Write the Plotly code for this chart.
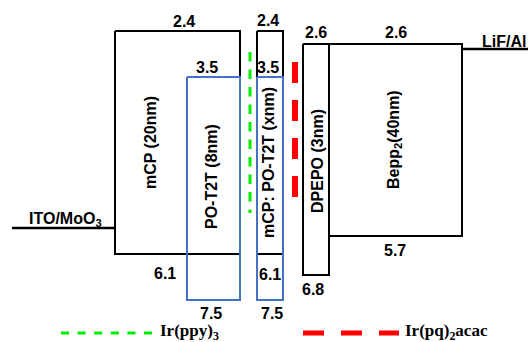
import plotly.graph_objects as go

# ---------------- data ----------------
# energy-level boxes (eV): LUMO (top) and HOMO (bottom)
box_names = ["mCP", "PO-T2T", "mCP (host)", "PO-T2T (co-host)", "DPEPO", "Bepp2"]
box_lumo = [2.4, 3.5, 2.4, 3.5, 2.6, 2.6]
box_homo = [6.1, 7.5, 6.1, 7.5, 6.8, 5.7]

# rotated layer labels
layer_labels = ["mCP (20nm)", "PO-T2T (8nm)", "mCP: PO-T2T (xnm)", "DPEPO (3nm)",
                "Bepp<sub>2</sub>(40nm)"]

# electrodes
electrode_labels = ["ITO/MoO<sub>3</sub>", "LiF/Al"]

# legend
dopant_labels = ["Ir(ppy)<sub>3</sub>", "Ir(pq)<sub>2</sub>acac"]

# ---------------- layout / styling (schematic, not to scale) ----------------
# vertical drawing position of each energy level (diagram is schematic)
level_pos = {2.4: 31, 2.6: 44, 3.5: 77, 5.7: 236, 6.1: 254, 6.8: 275, 7.5: 300}
anode_pos, cathode_pos = 228, 49

box_x = [(115, 240), (187, 240), (257, 283), (257, 283), (303, 329), (329, 462)]
BLUE = "#4472C4"
box_col = ["black", BLUE, "black", BLUE, "black", "black"]

label_xy = [(150, 143), (211, 177), (268, 163), (317, 161), (394, 140)]

SANS = "Liberation Sans, Arial, sans-serif"
SERIF = "Liberation Serif, Times New Roman, serif"

fig = go.Figure()

# boxes
for (x0, x1), lu, ho, col, nm in zip(box_x, box_lumo, box_homo, box_col, box_names):
    yt, yb = level_pos[lu], level_pos[ho]
    fig.add_trace(go.Scatter(x=[x0, x1, x1, x0, x0], y=[yt, yt, yb, yb, yt],
                             mode="lines", line=dict(color=col, width=2),
                             name=nm, hoverinfo="name", showlegend=False))

# electrodes
fig.add_trace(go.Scatter(x=[12, 115], y=[anode_pos, anode_pos], mode="lines",
                         line=dict(color="black", width=2.5), showlegend=False))
fig.add_trace(go.Scatter(x=[462, 528], y=[cathode_pos, cathode_pos], mode="lines",
                         line=dict(color="black", width=2.5), showlegend=False))

# dopant emitter levels (dashed)
fig.add_trace(go.Scatter(x=[250, 250], y=[52, 213], mode="lines",
                         line=dict(color="#00F000", width=3, dash="9.5px,8px"),
                         showlegend=False))
fig.add_trace(go.Scatter(x=[295, 295], y=[62, 197], mode="lines",
                         line=dict(color="#FF0000", width=6, dash="21px,17px"),
                         showlegend=False))

# legend (drawn manually)
fig.add_trace(go.Scatter(x=[61, 152], y=[333, 333], mode="lines",
                         line=dict(color="#00F000", width=3, dash="8px,8.6px"),
                         showlegend=False))
fig.add_trace(go.Scatter(x=[303, 399], y=[333, 333], mode="lines",
                         line=dict(color="#FF0000", width=5, dash="21px,17px"),
                         showlegend=False))

ann = []
def txt(x, y, t, size=16, fam=SANS, angle=0, xa="center", ya="middle"):
    ann.append(dict(x=x, y=y, xref="x", yref="y", text=t, showarrow=False,
                    textangle=angle, xanchor=xa, yanchor=ya, borderpad=0,
                    font=dict(family=fam, size=size, color="black", weight="bold")))

# level value labels
fmt = lambda v: f"{v:.1f}"
txt(184, level_pos[box_lumo[0]] - 10, fmt(box_lumo[0]))
txt(207, level_pos[box_lumo[1]] - 10, fmt(box_lumo[1]))
txt(268, level_pos[box_lumo[2]] - 11, fmt(box_lumo[2]))
txt(268, level_pos[box_lumo[3]] - 10, fmt(box_lumo[3]))
txt(316, level_pos[box_lumo[4]] - 12, fmt(box_lumo[4]))
txt(396, level_pos[box_lumo[5]] - 12, fmt(box_lumo[5]))
txt(165, level_pos[box_homo[0]] + 19, fmt(box_homo[0]))
txt(211, level_pos[box_homo[1]] + 13, fmt(box_homo[1]))
txt(270, level_pos[box_homo[2]] + 20, fmt(box_homo[2]))
txt(272, level_pos[box_homo[3]] + 13, fmt(box_homo[3]))
txt(313, level_pos[box_homo[4]] + 14, fmt(box_homo[4]))
txt(395, level_pos[box_homo[5]] + 14, fmt(box_homo[5]))

# layer labels
for (x, y), t in zip(label_xy, layer_labels):
    txt(x, y, t, angle=-90)

# electrodes
txt(65, anode_pos - 9, electrode_labels[0])
txt(481, cathode_pos - 8, electrode_labels[1], xa="left")

# legend texts
txt(159, 332, dopant_labels[0], size=17, fam=SERIF, xa="left")
txt(404, 332, dopant_labels[1], size=17, fam=SERIF, xa="left")

fig.update_layout(
    width=528, height=342, autosize=False,
    margin=dict(l=0, r=0, t=0, b=0),
    paper_bgcolor="white", plot_bgcolor="white",
    xaxis=dict(range=[0, 528], visible=False, fixedrange=True),
    yaxis=dict(range=[342, 0], visible=False, fixedrange=True),
    annotations=ann, showlegend=False,
)

fig.write_html("out.html", config={"displayModeBar": False},
               post_script="document.body.style.margin='0';document.body.style.overflow='hidden';")
